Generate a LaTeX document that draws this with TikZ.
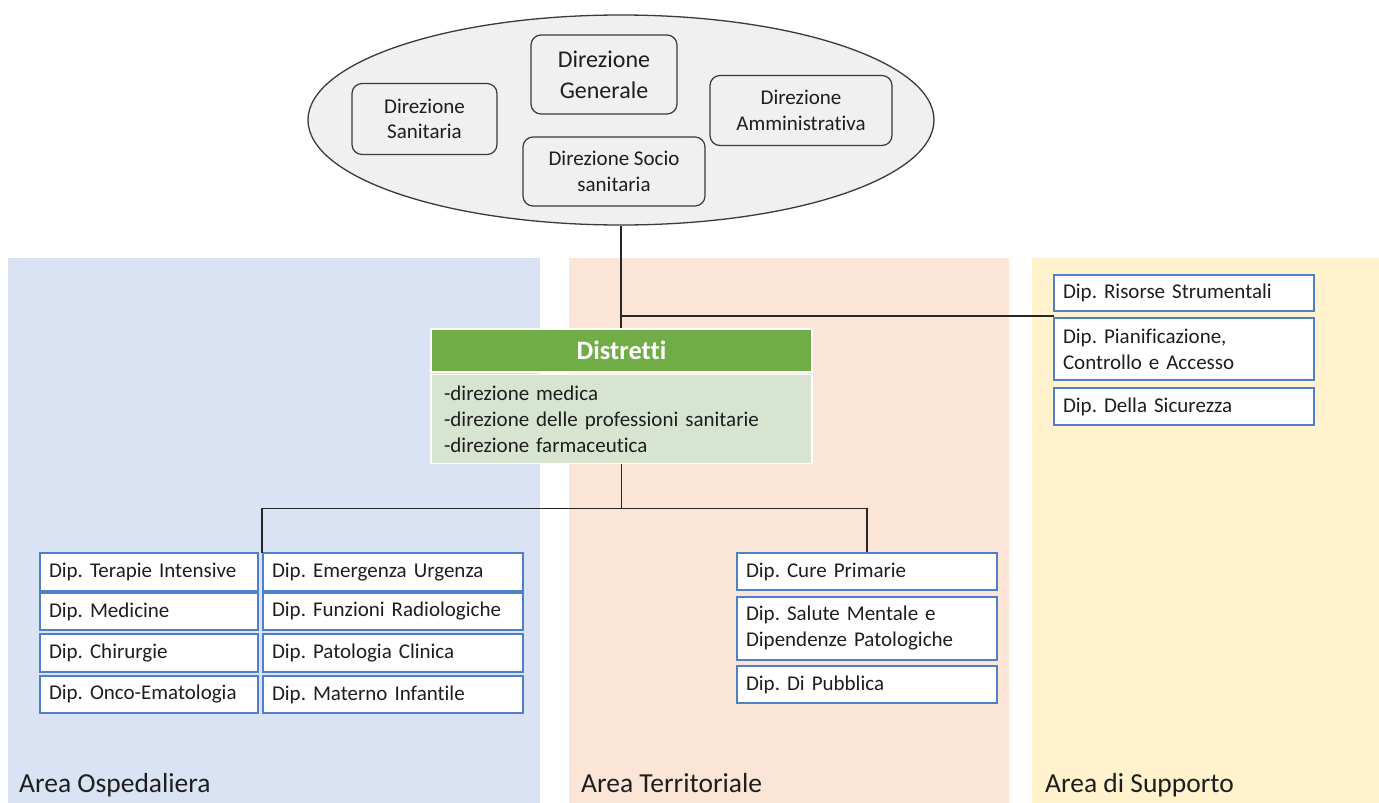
\documentclass[tikz,border=0pt]{standalone}
\usepackage{fontspec}
\setmainfont{Carlito}[Ligatures={NoCommon}]
\usetikzlibrary{shapes.geometric}
\frenchspacing

\definecolor{panelblue}{HTML}{DAE3F3}
\definecolor{panelorange}{HTML}{FBE5D6}
\definecolor{panelyellow}{HTML}{FFF2CC}
\definecolor{ellgray}{HTML}{F0F0F0}
\definecolor{edgegray}{HTML}{3A3A3A}
\definecolor{boxblue}{HTML}{4F7ECB}
\definecolor{headgreen}{HTML}{70AD47}
\definecolor{bodygreen}{HTML}{D7E4D0}
\definecolor{txt}{HTML}{1E1E1E}
\definecolor{linegray}{HTML}{262626}

\newcommand{\dipfont}{\fontsize{21}{26}\selectfont}

\begin{document}
\begin{tikzpicture}[x=1pt,y=-1pt,
  dip/.style={draw=boxblue, fill=white, line width=1.3, inner xsep=9, inner ysep=0,
              align=left, font=\dipfont, text=txt},
  dirbox/.style={draw=edgegray, fill=ellgray, rounded corners=10, line width=1.2,
                 align=center, inner sep=0, text=txt, font=\fontsize{21}{25.5}\selectfont},
  link/.style={draw=linegray, line width=1.5},
  arealabel/.style={anchor=base west, inner sep=0, text=txt, font=\fontsize{27.5}{31}\selectfont}
]
\useasboundingbox (0,0) rectangle (1379,803);
\fill[white] (0,0) rectangle (1379,803);

% area panels
\fill[panelblue]   (8,258)    rectangle (540,803);
\fill[panelorange] (569,258)  rectangle (1009,803);
\fill[panelyellow] (1032,258) rectangle (1379,803);

\node[arealabel] (aosp) at (19,792)   {Area Ospedaliera};
\node[arealabel] (ater) at (581,792)  {Area Territoriale};
\node[arealabel] (asup) at (1045,792) {Area di Supporto};

% top management ellipse
\node[ellipse, draw=edgegray, fill=ellgray, line width=1.3, inner sep=0,
      minimum width=626, minimum height=210] (top) at (621,120) {};
\node[dirbox, minimum width=145, minimum height=71] (dsan) at (424.5,119) {Direzione\\Sanitaria};
\node[dirbox, minimum width=146, minimum height=79, font=\fontsize{24}{31}\selectfont] (dgen) at (604,74.5) {Direzione\\Generale};
\node[dirbox, minimum width=182, minimum height=70] (damm) at (801,110.5) {Direzione\\Amministrativa};
\node[dirbox, minimum width=182, minimum height=69] (dsoc) at (614,171.5) {Direzione Socio\\sanitaria};

% Distretti
\node[fill=headgreen, draw=white, line width=1.5, minimum width=381, minimum height=43,
      inner sep=0, text=white, font=\bfseries\fontsize{26.5}{30}\selectfont] (dhead) at (621.5,350.5) {Distretti};
\node[fill=bodygreen, draw=white, line width=1.5, minimum width=381, minimum height=89,
      inner xsep=13, inner ysep=0, text width=355, align=left, text=txt,
      font=\fontsize{21}{26}\selectfont] (dbody) at (621.5,419)
  {-direzione medica\\-direzione delle professioni sanitarie\\-direzione farmaceutica};

% Area Ospedaliera departments
\node[dip, text width=200, minimum height=38] (ti)  at (149,572)    {Dip. Terapie Intensive};
\node[dip, text width=200, minimum height=37] (med) at (149,611.5)  {Dip. Medicine};
\node[dip, text width=200, minimum height=38] (chi) at (149,653)    {Dip. Chirurgie};
\node[dip, text width=200, minimum height=37] (onc) at (149,694.5)  {Dip. Onco-Ematologia};
\node[dip, text width=242, minimum height=38] (emu) at (393,572)    {Dip. Emergenza Urgenza};
\node[dip, text width=242, minimum height=37] (fra) at (393,611.5)  {Dip. Funzioni Radiologiche};
\node[dip, text width=242, minimum height=38] (pcl) at (393,653)    {Dip. Patologia Clinica};
\node[dip, text width=242, minimum height=37] (mai) at (393,694.5)  {Dip. Materno Infantile};

% Area Territoriale departments
\node[dip, text width=242, minimum height=37] (cp)  at (867,571.5) {Dip. Cure Primarie};
\node[dip, text width=242, minimum height=63] (smd) at (867,628.5) {Dip. Salute Mentale e\\Dipendenze Patologiche};
\node[dip, text width=242, minimum height=37] (dpu) at (867,684.5) {Dip. Di Pubblica};

% Area di Supporto departments
\node[dip, text width=242, minimum height=36] (rst) at (1184,293)   {Dip. Risorse Strumentali};
\node[dip, text width=242, minimum height=62] (pca) at (1184,349)   {Dip. Pianificazione,\\Controllo e Accesso};
\node[dip, text width=242, minimum height=37] (sic) at (1184,406.5) {Dip. Della Sicurezza};

% connectors
\coordinate (sj) at (1054,316);
\coordinate (lj) at (262,553);
\draw[link] (top.south) -- (top.south |- dhead.north);
\draw[link] (top.south |- sj) -- (sj);
\draw[link] (dbody.south) -- ++(0,44) coordinate (hub);
\draw[link] (lj |- hub) -- (cp.north |- hub);
\draw[link] (lj |- hub) -- (lj);
\draw[link] (cp.north |- hub) -- (cp.north);

\end{tikzpicture}
\end{document}
